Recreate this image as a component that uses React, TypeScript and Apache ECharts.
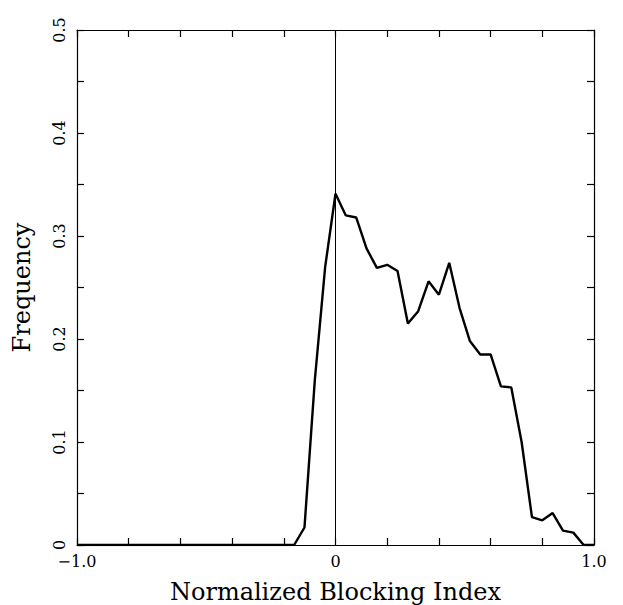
import React, { useEffect, useRef } from "react";
import * as echarts from "echarts";

const xValues: number[] = [
  -1.0, -0.16, -0.12, -0.08, -0.04, 0, 0.04, 0.08, 0.12, 0.16, 0.2, 0.24, 0.28,
  0.32, 0.36, 0.4, 0.44, 0.48, 0.52, 0.56, 0.6, 0.64, 0.68, 0.72, 0.76, 0.8,
  0.84, 0.88, 0.92, 0.96, 1.0,
];
const frequency: number[] = [
  0, 0, 0.017, 0.16, 0.27, 0.341, 0.32, 0.318, 0.288, 0.269, 0.272, 0.266,
  0.215, 0.227, 0.256, 0.243, 0.274, 0.23, 0.198, 0.185, 0.185, 0.154, 0.153,
  0.1, 0.027, 0.024, 0.031, 0.014, 0.012, 0, 0,
];
const xTickLabels: Record<string, string> = { "-1": "\u22121.0", "0": "0", "1": "1.0" };
const yTickLabels: Record<string, string> = {
  "0": "0", "0.1": "0.1", "0.2": "0.2", "0.3": "0.3", "0.4": "0.4", "0.5": "0.5",
};

const FONT = "DejaVu Serif";

export default function App() {
  const ref = useRef<HTMLDivElement>(null);
  useEffect(() => {
    if (!ref.current) return;
    const chart = echarts.init(ref.current, null, { renderer: "svg" });
    const axisLine = { show: true, onZero: false, lineStyle: { color: "#000", width: 1.2 } };
    const tick = (len: number) => ({
      show: true,
      inside: true,
      length: len,
      lineStyle: { color: "#000", width: 1.2 },
    });
    const key = (v: number) => String(Math.round(v * 100) / 100);
    chart.setOption({
      animation: false,
      backgroundColor: "#fff",
      grid: {
        left: 77,
        right: 29,
        top: 30,
        bottom: 60,
        containLabel: false,
        outerBoundsMode: "none",
      },
      xAxis: [
        {
          type: "value",
          min: -1,
          max: 1,
          interval: 0.2,
          position: "bottom",
          axisLine,
          axisTick: tick(7),
          splitLine: { show: false },
          axisLabel: {
            formatter: (v: number) => xTickLabels[key(v)] ?? "",
            color: "#000",
            fontFamily: FONT,
            fontSize: 16,
            margin: 8,
          },
          name: "Normalized Blocking Index",
          nameLocation: "middle",
          nameGap: 35,
          nameTextStyle: { color: "#000", fontFamily: FONT, fontSize: 24 },
        },
        {
          type: "value",
          min: -1,
          max: 1,
          interval: 0.2,
          position: "top",
          axisLine,
          axisTick: tick(7),
          splitLine: { show: false },
          axisLabel: { show: false },
        },
      ],
      yAxis: [
        {
          type: "value",
          min: 0,
          max: 0.5,
          interval: 0.05,
          position: "left",
          axisLine,
          axisTick: tick(7),
          splitLine: { show: false },
          axisLabel: {
            formatter: (v: number) => yTickLabels[key(v)] ?? "",
            rotate: 90,
            color: "#000",
            fontFamily: FONT,
            fontSize: 16,
            margin: 10,
          },
          name: "Frequency",
          nameLocation: "middle",
          nameGap: 43,
          nameTextStyle: { color: "#000", fontFamily: FONT, fontSize: 24 },
        },
        {
          type: "value",
          min: 0,
          max: 0.5,
          interval: 0.05,
          position: "right",
          axisLine,
          axisTick: tick(7),
          splitLine: { show: false },
          axisLabel: { show: false },
        },
      ],
      series: [
        {
          type: "line",
          data: xValues.map((x, i) => [x, frequency[i]]),
          showSymbol: false,
          symbol: "none",
          lineStyle: { color: "#000", width: 2.4 },
          z: 3,
          markLine: {
            silent: true,
            symbol: "none",
            label: { show: false },
            lineStyle: { color: "#000", width: 1, type: "solid" },
            data: [{ xAxis: 0 }],
          },
        },
      ],
    });
    return () => chart.dispose();
  }, []);
  return (
    <div
      ref={ref}
      style={{ position: "fixed", left: 0, top: 0, width: 623, height: 605 }}
    />
  );
}
